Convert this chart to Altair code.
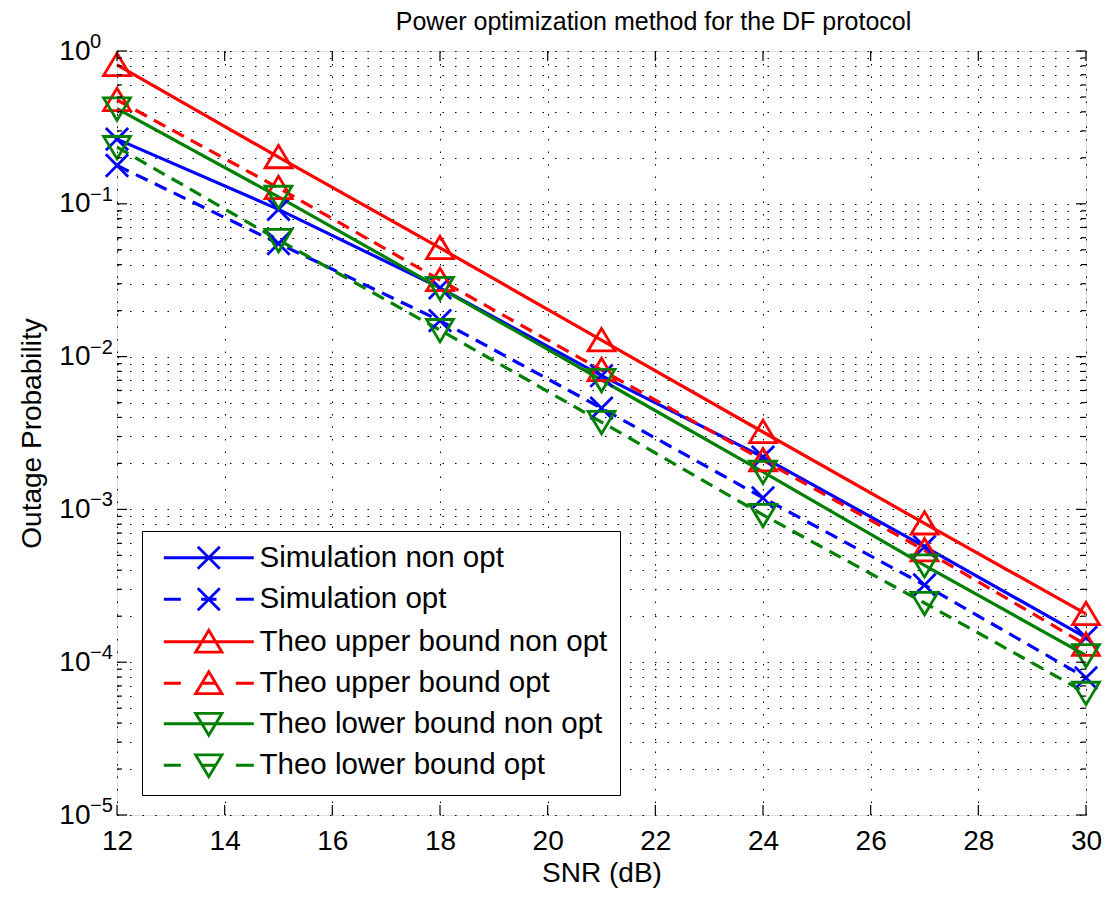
import altair as alt
import pandas as pd

FONT = "Liberation Sans"

# ---- data ----
snr = [12, 15, 18, 21, 24, 27, 30]
series_names = [
    "Simulation non opt",
    "Simulation opt",
    "Theo upper bound non opt",
    "Theo upper bound opt",
    "Theo lower bound non opt",
    "Theo lower bound opt",
]
sim_non_opt = [0.265, 0.092, 0.0282, 0.0075, 0.0022, 5.7e-4, 1.45e-4]
sim_opt = [0.178, 0.055, 0.0172, 0.0046, 0.00119, 3.2e-4, 7.9e-5]
upper_non_opt = [0.81, 0.202, 0.0514, 0.0128, 0.00321, 8.1e-4, 2.07e-4]
upper_opt = [0.478, 0.127, 0.0317, 0.00817, 0.0021, 5.4e-4, 1.3e-4]
lower_non_opt = [0.42, 0.111, 0.0281, 0.00703, 0.00176, 4.3e-4, 1.11e-4]
lower_opt = [0.235, 0.058, 0.0149, 0.00373, 9.2e-4, 2.44e-4, 6.3e-5]
series_values = [sim_non_opt, sim_opt, upper_non_opt, upper_opt, lower_non_opt, lower_opt]
series_marker = ["x", "x", "up", "up", "down", "down"]
series_colors = ["#0000ff", "#0000ff", "#ff0000", "#ff0000", "#008000", "#008000"]
series_solid = [True, False, True, False, True, False]

x_ticks = [12, 14, 16, 18, 20, 22, 24, 26, 28, 30]
decades = [1e-5, 1e-4, 1e-3, 1e-2, 1e-1, 1.0]
decade_exp = ["\u22125", "\u22124", "\u22123", "\u22122", "\u22121", "0"]
minor_vals = [m * d for d in decades[:-1] for m in range(2, 10)]

# ---- tables ----
rows = []
for name, vals, mk, sol in zip(series_names, series_values, series_marker, series_solid):
    for s, v in zip(snr, vals):
        rows.append({"series": name, "snr": s, "p": v, "marker": mk,
                     "style": "solid" if sol else "dashed"})
df = pd.DataFrame(rows)
dec_df = pd.DataFrame({"p": decades, "e": decade_exp})
minor_df = pd.DataFrame({"p": minor_vals})
xt_df = pd.DataFrame({"snr": x_ticks})

W, H = 969, 764

xscale = alt.Scale(domain=[12, 30], nice=False, zero=False)
yscale = alt.Scale(type="log", domain=[1e-5, 1], nice=False)
cscale = alt.Scale(domain=series_names, range=series_colors)

# marker paths
P_X = "M-1,-1L1,1M-1,1L1,-1"
P_UP = "M0,-1.05L1.2,0.95L-1.2,0.95Z"
P_DN = "M0,1.05L1.2,-0.95L-1.2,-0.95Z"
marker_paths = {"x": P_X, "up": P_UP, "down": P_DN}


def legend_path(mk, solid):
    cx = 3.64
    if mk == "x":
        m = f"M{cx-1},-1L{cx+1},1M{cx-1},1L{cx+1},-1"
    elif mk == "up":
        m = f"M{cx},-1.05L{cx+1.2},0.95L{cx-1.2},0.95Z"
    else:
        m = f"M{cx},1.05L{cx+1.2},-0.95L{cx-1.2},-0.95Z"
    if solid:
        line = "M-0.45,0H7.73"
    else:
        line = f"M-0.45,0H1.1M6.1,0H7.73M{cx-0.7},0H{cx+0.7}"
    return line + m


legend_paths = [legend_path(mk, s) for mk, s in zip(series_marker, series_solid)]

LEG = alt.Legend(title=None, orient="none", legendX=25, legendY=480,
                 padding=12, strokeColor="black", fillColor="white",
                 labelFont=FONT, labelFontSize=29.5, labelColor="black",
                 labelLimit=500, symbolSize=484, symbolStrokeWidth=2.8,
                 labelOffset=76, rowPadding=7.5)

xenc = alt.X("snr:Q", scale=xscale,
             axis=alt.Axis(values=x_ticks, grid=True, gridColor="black", gridDash=[1.5, 11],
                           gridOpacity=1, gridWidth=1, ticks=False, tickSize=0, domain=False,
                           labelFontSize=28, labelPadding=12, labelFlush=False,
                           labelColor="black", labelFont=FONT,
                           title="SNR (dB)", titleFontSize=28, titleFont=FONT,
                           titleFontWeight="normal", titleColor="black", titlePadding=4))
yenc = alt.Y("p:Q", scale=yscale,
             axis=alt.Axis(values=minor_vals + decades, grid=True, gridColor="black",
                           gridDash=[1.5, 11], gridOpacity=1, gridWidth=1,
                           ticks=False, tickSize=0, domain=False,
                           labelExpr="abs(log(datum.value)/LN10 - round(log(datum.value)/LN10)) < 1e-6 ? '10' : ''",
                           labelOverlap=False, labelFontSize=28, labelPadding=27,
                           labelColor="black", labelFont=FONT, labelFlush=False,
                           title="Outage Probability", titleFontSize=28, titleFont=FONT,
                           titleFontWeight="normal", titleColor="black", titlePadding=12))

base = alt.Chart(df)

solid_lines = base.transform_filter(alt.datum.style == "solid").mark_line(strokeWidth=3.2).encode(
    x=xenc, y=yenc,
    color=alt.Color("series:N", scale=cscale, legend=LEG),
    detail="series:N",
)
dashed_lines = base.transform_filter(alt.datum.style == "dashed").mark_line(
    strokeWidth=3.2, strokeDash=[13, 8]
).encode(
    x="snr:Q", y="p:Q",
    color=alt.Color("series:N", scale=cscale, legend=LEG),
    detail="series:N",
)

marker_layers = []
for mk, path in marker_paths.items():
    marker_layers.append(
        base.transform_filter(alt.datum.marker == mk)
        .mark_point(filled=False, strokeWidth=2.8, opacity=1, size=500, shape=path)
        .encode(x="snr:Q", y="p:Q", color=alt.Color("series:N", scale=cscale, legend=LEG))
    )

legend_layer = base.transform_filter("false").mark_point(
    filled=False, strokeWidth=2.8, opacity=1, size=484
).encode(
    x="snr:Q", y="p:Q",
    color=alt.Color("series:N", scale=cscale, legend=LEG),
    shape=alt.Shape("series:N", scale=alt.Scale(domain=series_names, range=legend_paths),
                    legend=LEG),
)

# inward ticks
xt_bottom = alt.Chart(xt_df).mark_rule(color="black", strokeWidth=1.2).encode(
    x="snr:Q", y=alt.value(H), y2=alt.value(H - 10))
xt_top = alt.Chart(xt_df).mark_rule(color="black", strokeWidth=1.2).encode(
    x="snr:Q", y=alt.value(0), y2=alt.value(10))
yt_major_l = alt.Chart(dec_df).mark_rule(color="black", strokeWidth=1.2).encode(
    y="p:Q", x=alt.value(0), x2=alt.value(10))
yt_major_r = alt.Chart(dec_df).mark_rule(color="black", strokeWidth=1.2).encode(
    y="p:Q", x=alt.value(W), x2=alt.value(W - 10))
yt_minor_l = alt.Chart(minor_df).mark_rule(color="black", strokeWidth=1.2).encode(
    y="p:Q", x=alt.value(0), x2=alt.value(5))
yt_minor_r = alt.Chart(minor_df).mark_rule(color="black", strokeWidth=1.2).encode(
    y="p:Q", x=alt.value(W), x2=alt.value(W - 5))

exp_text = alt.Chart(dec_df).mark_text(
    align="left", baseline="middle", dy=-9, fontSize=20, font=FONT, color="black"
).encode(y="p:Q", x=alt.value(-27), text="e:N")

chart = alt.layer(
    solid_lines, dashed_lines, *marker_layers, legend_layer,
    xt_bottom, xt_top, yt_major_l, yt_major_r, yt_minor_l, yt_minor_r, exp_text,
).properties(
    width=W, height=H,
    title=alt.TitleParams("Power optimization method for the DF protocol", fontSize=25,
                          font=FONT, fontWeight="normal", color="black", anchor="middle",
                          offset=13, dx=52, dy=16),
    autosize=alt.AutoSizeParams(type="none"),
    padding={"left": 109, "top": 43, "right": 18, "bottom": 77},
).configure_view(stroke="black", strokeWidth=1.5).configure(background="white")

chart.save("out.html", embed_options={"renderer": "svg", "actions": False})
